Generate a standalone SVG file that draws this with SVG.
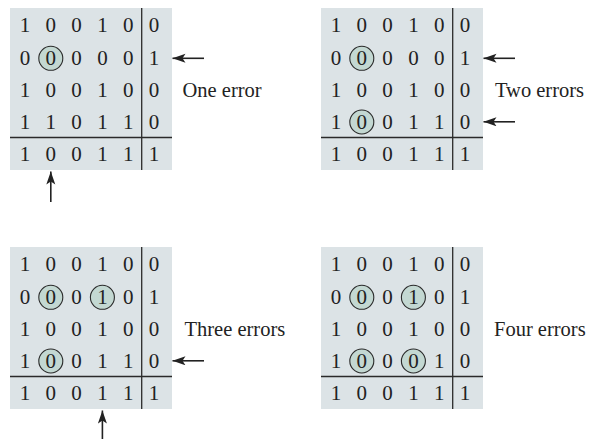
<svg xmlns="http://www.w3.org/2000/svg" width="591" height="439" viewBox="0 0 591 439">
<defs>
<style>
.panel{fill:#dce3e6}
.rule{stroke:#2a2a2a;stroke-width:1.3;fill:none}
.ring{fill:#c3d8d2;stroke:#2a2a2a;stroke-width:1.1}
.d{font-family:"Liberation Serif","Times New Roman",serif;font-size:21px;fill:#222;text-anchor:middle}
.lbl{font-family:"Liberation Serif","Times New Roman",serif;font-size:20.5px;fill:#222}
.arr{stroke:#222;stroke-width:1.6;fill:none;marker-end:url(#ah)}
</style>
<marker id="ah" markerWidth="14" markerHeight="10" refX="13" refY="4.5" orient="auto" markerUnits="userSpaceOnUse">
<path d="M0,0 L13,4.5 L0,9 L3,4.5 Z" fill="#222"/>
</marker>
<g id="grid">
<rect class="panel" x="10" y="8" width="162" height="162"/>
<line class="rule" x1="141.7" y1="8" x2="141.7" y2="170"/>
<line class="rule" x1="10" y1="137.5" x2="172" y2="137.5"/>
</g>
</defs>

<g id="panel1">
<use href="#grid"/>
<circle class="ring" cx="50.8" cy="58.3" r="12"/>
<g class="d">
<text x="25" y="32.3">1</text><text x="50.8" y="32.3">0</text><text x="76.6" y="32.3">0</text><text x="102.4" y="32.3">1</text><text x="128.2" y="32.3">0</text><text x="154" y="32.3">0</text>
<text x="25" y="64.6">0</text><text x="50.8" y="64.6">0</text><text x="76.6" y="64.6">0</text><text x="102.4" y="64.6">0</text><text x="128.2" y="64.6">0</text><text x="154" y="64.6">1</text>
<text x="25" y="96.8">1</text><text x="50.8" y="96.8">0</text><text x="76.6" y="96.8">0</text><text x="102.4" y="96.8">1</text><text x="128.2" y="96.8">0</text><text x="154" y="96.8">0</text>
<text x="25" y="129">1</text><text x="50.8" y="129">1</text><text x="76.6" y="129">0</text><text x="102.4" y="129">1</text><text x="128.2" y="129">1</text><text x="154" y="129">0</text>
<text x="25" y="161">1</text><text x="50.8" y="161">0</text><text x="76.6" y="161">0</text><text x="102.4" y="161">1</text><text x="128.2" y="161">1</text><text x="154" y="161">1</text>
</g>
<text class="lbl" x="182.5" y="96.5">One error</text>
</g>

<g id="panel2" transform="translate(311,0)">
<use href="#grid"/>
<circle class="ring" cx="50.8" cy="58.3" r="12"/>
<circle class="ring" cx="50.8" cy="122" r="12"/>
<g class="d">
<text x="25" y="32.3">1</text><text x="50.8" y="32.3">0</text><text x="76.6" y="32.3">0</text><text x="102.4" y="32.3">1</text><text x="128.2" y="32.3">0</text><text x="154" y="32.3">0</text>
<text x="25" y="64.6">0</text><text x="50.8" y="64.6">0</text><text x="76.6" y="64.6">0</text><text x="102.4" y="64.6">0</text><text x="128.2" y="64.6">0</text><text x="154" y="64.6">1</text>
<text x="25" y="96.8">1</text><text x="50.8" y="96.8">0</text><text x="76.6" y="96.8">0</text><text x="102.4" y="96.8">1</text><text x="128.2" y="96.8">0</text><text x="154" y="96.8">0</text>
<text x="25" y="129">1</text><text x="50.8" y="129">0</text><text x="76.6" y="129">0</text><text x="102.4" y="129">1</text><text x="128.2" y="129">1</text><text x="154" y="129">0</text>
<text x="25" y="161">1</text><text x="50.8" y="161">0</text><text x="76.6" y="161">0</text><text x="102.4" y="161">1</text><text x="128.2" y="161">1</text><text x="154" y="161">1</text>
</g>
<text class="lbl" x="184" y="96.5">Two errors</text>
</g>

<g id="panel3" transform="translate(0,239)">
<use href="#grid"/>
<circle class="ring" cx="50.8" cy="58.3" r="12"/>
<circle class="ring" cx="102.4" cy="58.3" r="12"/>
<circle class="ring" cx="50.8" cy="122" r="12"/>
<g class="d">
<text x="25" y="32.3">1</text><text x="50.8" y="32.3">0</text><text x="76.6" y="32.3">0</text><text x="102.4" y="32.3">1</text><text x="128.2" y="32.3">0</text><text x="154" y="32.3">0</text>
<text x="25" y="64.6">0</text><text x="50.8" y="64.6">0</text><text x="76.6" y="64.6">0</text><text x="102.4" y="64.6">1</text><text x="128.2" y="64.6">0</text><text x="154" y="64.6">1</text>
<text x="25" y="96.8">1</text><text x="50.8" y="96.8">0</text><text x="76.6" y="96.8">0</text><text x="102.4" y="96.8">1</text><text x="128.2" y="96.8">0</text><text x="154" y="96.8">0</text>
<text x="25" y="129">1</text><text x="50.8" y="129">0</text><text x="76.6" y="129">0</text><text x="102.4" y="129">1</text><text x="128.2" y="129">1</text><text x="154" y="129">0</text>
<text x="25" y="161">1</text><text x="50.8" y="161">0</text><text x="76.6" y="161">0</text><text x="102.4" y="161">1</text><text x="128.2" y="161">1</text><text x="154" y="161">1</text>
</g>
<text class="lbl" x="184.5" y="96.5">Three errors</text>
</g>

<g id="panel4" transform="translate(311,239)">
<use href="#grid"/>
<circle class="ring" cx="50.8" cy="58.3" r="12"/>
<circle class="ring" cx="102.4" cy="58.3" r="12"/>
<circle class="ring" cx="50.8" cy="122" r="12"/>
<circle class="ring" cx="102.4" cy="122" r="12"/>
<g class="d">
<text x="25" y="32.3">1</text><text x="50.8" y="32.3">0</text><text x="76.6" y="32.3">0</text><text x="102.4" y="32.3">1</text><text x="128.2" y="32.3">0</text><text x="154" y="32.3">0</text>
<text x="25" y="64.6">0</text><text x="50.8" y="64.6">0</text><text x="76.6" y="64.6">0</text><text x="102.4" y="64.6">1</text><text x="128.2" y="64.6">0</text><text x="154" y="64.6">1</text>
<text x="25" y="96.8">1</text><text x="50.8" y="96.8">0</text><text x="76.6" y="96.8">0</text><text x="102.4" y="96.8">1</text><text x="128.2" y="96.8">0</text><text x="154" y="96.8">0</text>
<text x="25" y="129">1</text><text x="50.8" y="129">0</text><text x="76.6" y="129">0</text><text x="102.4" y="129">0</text><text x="128.2" y="129">1</text><text x="154" y="129">0</text>
<text x="25" y="161">1</text><text x="50.8" y="161">0</text><text x="76.6" y="161">0</text><text x="102.4" y="161">1</text><text x="128.2" y="161">1</text><text x="154" y="161">1</text>
</g>
<text class="lbl" x="183" y="96.5">Four errors</text>
</g>

<g id="connectors">
<line class="arr" x1="204" y1="58.3" x2="172.5" y2="58.3"/>
<line class="arr" x1="50.8" y1="202" x2="50.8" y2="171.5"/>
<line class="arr" x1="515" y1="58.3" x2="483.5" y2="58.3"/>
<line class="arr" x1="515" y1="121.8" x2="483.5" y2="121.8"/>
<line class="arr" x1="204" y1="360.8" x2="172.5" y2="360.8"/>
<line class="arr" x1="102.4" y1="441" x2="102.4" y2="410.5"/>
</g>
</svg>
